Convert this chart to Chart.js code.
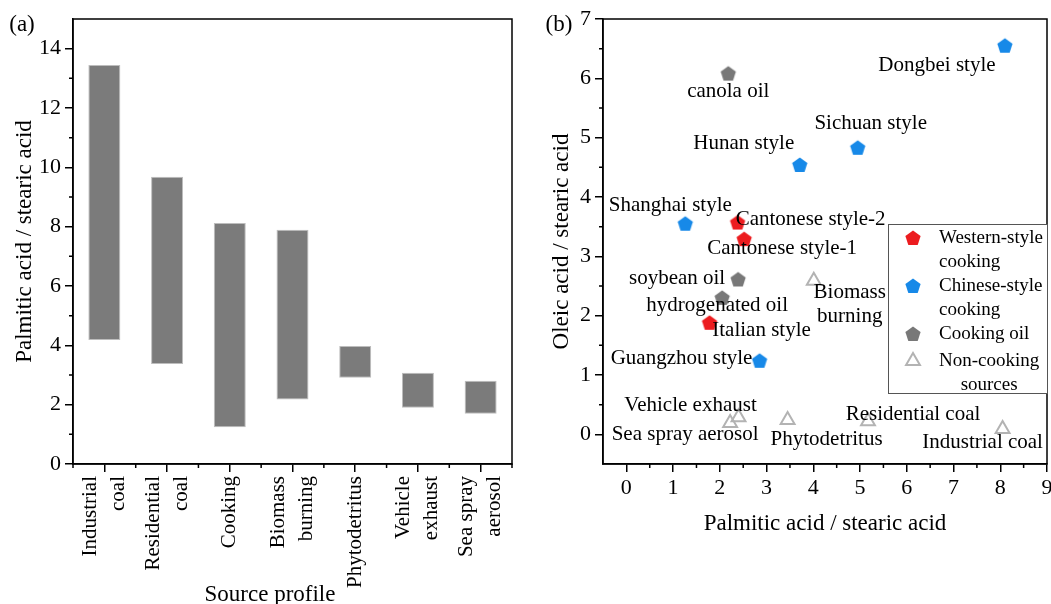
<!DOCTYPE html>
<html>
<head>
<meta charset="utf-8">
<script src="https://cdn.jsdelivr.net/npm/chart.js@4.4.0/dist/chart.umd.min.js"></script>
<style>
  html, body { margin: 0; padding: 0; background: #fff; overflow: hidden; width: 1051px; height: 604px; }
  canvas { position: absolute; top: 0; }
</style>
</head>
<body>
<canvas id="barChart" width="530" height="604" style="left:0"></canvas>
<canvas id="scatterChart" width="530" height="604" style="left:540px"></canvas>
<script>
// (a) palmitic / stearic ranges per source
var sources = ['Industrial\ncoal', 'Residential\ncoal', 'Cooking', 'Biomass\nburning', 'Phytodetritus', 'Vehicle\nexhaust', 'Sea spray\naerosol'];
var rangeLow = [4.18, 3.37, 1.24, 2.17, 2.91, 1.90, 1.69];
var rangeHigh = [13.45, 9.68, 8.12, 7.90, 3.98, 3.08, 2.81];
var yTicksA = [0, 2, 4, 6, 8, 10, 12, 14];
var yMinorA = [1, 3, 5, 7, 9, 11, 13];
var xMinorA = [-0.5, 0.5, 1.5, 2.5, 3.5, 4.5, 5.5, 6.5];

// (b) oleic vs palmitic
var westernNames = ['Cantonese style-2', 'Cantonese style-1', 'Italian style'];
var westernX = [2.38, 2.52, 1.78];
var westernY = [3.57, 3.29, 1.88];
var chineseNames = ['Dongbei style', 'Sichuan style', 'Hunan style', 'Shanghai style', 'Guangzhou style'];
var chineseX = [8.10, 4.95, 3.71, 1.26, 2.85];
var chineseY = [6.55, 4.83, 4.54, 3.55, 1.24];
var oilNames = ['canola oil', 'soybean oil', 'hydrogenated oil'];
var oilX = [2.18, 2.39, 2.05];
var oilY = [6.08, 2.61, 2.30];
var otherNames = ['Biomass\nburning', 'Vehicle exhaust', 'Sea spray aerosol', 'Phytodetritus', 'Residential coal', 'Industrial coal'];
var otherX = [4.01, 2.40, 2.22, 3.45, 5.17, 8.05];
var otherY = [2.59, 0.29, 0.19, 0.24, 0.22, 0.09];
var xTicksB = [0, 1, 2, 3, 4, 5, 6, 7, 8, 9];
var yTicksB = [0, 1, 2, 3, 4, 5, 6, 7];
var xMinorB = [0.5, 1.5, 2.5, 3.5, 4.5, 5.5, 6.5, 7.5, 8.5];
var yMinorB = [0.5, 1.5, 2.5, 3.5, 4.5, 5.5, 6.5];

// where each point label sits, relative to its point (px)
var labelShift = {
  'Dongbei style': [-68, 20],
  'canola oil': [0, 18],
  'Hunan style': [-56, -21],
  'Sichuan style': [13, -24],
  'Shanghai style': [-15, -18],
  'Cantonese style-2': [73, -3],
  'Cantonese style-1': [38, 9],
  'soybean oil': [-61, -1],
  'Biomass\nburning': [36, 24],
  'hydrogenated oil': [-5, 8],
  'Italian style': [52, 8],
  'Guangzhou style': [-78, -2],
  'Vehicle exhaust': [-48, -12],
  'Sea spray aerosol': [-45, 11],
  'Phytodetritus': [39, 19],
  'Residential coal': [45, -7],
  'Industrial coal': [-20, 13]
};

Chart.defaults.font.family = '"Liberation Serif", "Times New Roman", serif';
Chart.defaults.color = '#000';

function pentagon(color) {
  var c = document.createElement('canvas');
  c.width = 18; c.height = 18;
  var g = c.getContext('2d');
  g.fillStyle = color;
  g.beginPath();
  for (var i = 0; i < 5; i++) {
    var a = -Math.PI / 2 + i * 2 * Math.PI / 5;
    g.lineTo(9 + 8 * Math.cos(a), 9.5 + 8 * Math.sin(a));
  }
  g.closePath();
  g.fill();
  return c;
}

function pts(xs, ys) {
  return xs.map(function (x, i) { return { x: x, y: ys[i] }; });
}

function fixTicks(list) {
  return function (s) { s.ticks = list.map(function (v) { return { value: v }; }); };
}

// frame + minor ticks
var frame = {
  id: 'frame',
  afterDraw: function (chart, args, opts) {
    var ctx = chart.ctx, a = chart.chartArea;
    var xs = chart.scales.x, ys = chart.scales.y;
    ctx.save();
    ctx.strokeStyle = '#000';
    ctx.lineWidth = 1.5;
    ctx.strokeRect(a.left, a.top, a.right - a.left, a.bottom - a.top);
    ctx.beginPath();
    (opts.xMinor || []).forEach(function (v) {
      var p = xs.getPixelForValue(v);
      ctx.moveTo(p, a.bottom); ctx.lineTo(p, a.bottom + 4);
    });
    (opts.yMinor || []).forEach(function (v) {
      var p = ys.getPixelForValue(v);
      ctx.moveTo(a.left, p); ctx.lineTo(a.left - 4, p);
    });
    ctx.stroke();
    ctx.restore();
  }
};

// free text: panel letters, titles drawn off-centre
var notes = {
  id: 'notes',
  afterDraw: function (chart, args, opts) {
    var ctx = chart.ctx;
    ctx.save();
    ctx.fillStyle = '#000';
    ctx.textAlign = 'center';
    ctx.textBaseline = 'middle';
    (opts.items || []).forEach(function (t) {
      ctx.font = t.size + 'px "Liberation Serif"';
      ctx.fillText(t.text, t.x, t.y);
    });
    ctx.restore();
  }
};

// rotated category labels, multi-line centred on the tick
var catLabels = {
  id: 'catLabels',
  afterDraw: function (chart) {
    var ctx = chart.ctx, xs = chart.scales.x, a = chart.chartArea;
    ctx.save();
    ctx.fillStyle = '#000';
    ctx.font = '21px "Liberation Serif"';
    ctx.textAlign = 'right';
    ctx.textBaseline = 'middle';
    chart.data.labels.forEach(function (lab, i) {
      var px = xs.getPixelForValue(i);
      var lines = lab.split('\n');
      lines.forEach(function (ln, j) {
        ctx.save();
        ctx.translate(px + (j - (lines.length - 1) / 2) * 28, a.bottom + 12);
        ctx.rotate(-Math.PI / 2);
        ctx.fillText(ln, 0, 0);
        ctx.restore();
      });
    });
    ctx.restore();
  }
};

var pointLabels = {
  id: 'pointLabels',
  afterDatasetsDraw: function (chart) {
    var ctx = chart.ctx;
    ctx.save();
    ctx.font = '21px "Liberation Serif"';
    ctx.fillStyle = '#000';
    ctx.textAlign = 'center';
    ctx.textBaseline = 'middle';
    chart.data.datasets.forEach(function (ds, di) {
      chart.getDatasetMeta(di).data.forEach(function (el, i) {
        var name = ds.names[i];
        var s = labelShift[name] || [0, -18];
        var lines = name.split('\n');
        lines.forEach(function (ln, j) {
          ctx.fillText(ln, el.x + s[0], el.y + s[1] + (j - (lines.length - 1) / 2) * 24.6);
        });
      });
    });
    ctx.restore();
  }
};

// boxed legend inside the plot, right side
var boxLegend = {
  id: 'boxLegend',
  afterDraw: function (chart) {
    var ctx = chart.ctx, a = chart.chartArea;
    var w = 159, h = 169;
    var left = a.right - w, top = a.top + 205;
    ctx.save();
    ctx.fillStyle = '#fff';
    ctx.fillRect(left, top, w, h);
    ctx.strokeStyle = '#555';
    ctx.lineWidth = 1;
    ctx.strokeRect(left + 0.5, top + 0.5, w, h);
    ctx.font = '19px "Liberation Serif"';
    ctx.textBaseline = 'middle';
    var y = top + 14;
    chart.data.datasets.forEach(function (ds) {
      ctx.fillStyle = ds.backgroundColor;
      ctx.strokeStyle = ds.borderColor;
      ctx.lineWidth = ds.borderWidth || 0;
      Chart.helpers.drawPoint(ctx, { pointStyle: ds.pointStyle, radius: ds.pointRadius, borderWidth: ds.borderWidth || 0, rotation: 0 }, left + 25, y);
      ctx.fillStyle = '#000';
      var lines = ds.label.split('\n');
      lines.forEach(function (ln, j) {
        if (j > 0 && ds.legendCenter) {
          ctx.textAlign = 'center';
          ctx.fillText(ln, left + 51 + ctx.measureText(lines[0]).width / 2, y + j * 24);
        } else {
          ctx.textAlign = 'left';
          ctx.fillText(ln, left + 51, y + j * 24);
        }
      });
      y += Math.max(lines.length * 24, 27);
    });
    ctx.restore();
  }
};

var axisGrid = { drawOnChartArea: false, tickLength: 8, color: '#000', lineWidth: 1.5 };
var axisBorder = { color: '#000', width: 1.5 };

new Chart(document.getElementById('barChart'), {
  type: 'bar',
  data: {
    labels: sources,
    datasets: [{
      data: rangeLow.map(function (v, i) { return [v, rangeHigh[i]]; }),
      backgroundColor: '#7b7b7b',
      borderColor: '#bdbdbd',
      borderWidth: 1,
      borderSkipped: false,
      barPercentage: 0.51,
      categoryPercentage: 1
    }]
  },
  options: {
    responsive: false,
    animation: false,
    layout: { padding: { top: 19, right: 18, left: 0, bottom: 0 } },
    plugins: {
      legend: { display: false },
      tooltip: { enabled: false },
      frame: { xMinor: xMinorA, yMinor: yMinorA },
      notes: { items: [
        { text: '(a)', x: 22, y: 25, size: 23 },
        { text: 'Source profile', x: 270, y: 595, size: 23 }
      ] }
    },
    scales: {
      x: {
        offset: true,
        grid: Object.assign({ offset: false }, axisGrid),
        border: axisBorder,
        ticks: { display: false },
        afterFit: function (s) { s.height = 140; }
      },
      y: {
        min: 0, max: 15,
        afterBuildTicks: fixTicks(yTicksA),
        ticks: { font: { size: 22 }, padding: 4 },
        grid: axisGrid,
        border: axisBorder,
        title: { display: true, text: 'Palmitic acid / stearic acid', font: { size: 23 }, padding: { top: 11, bottom: 0 } },
        afterFit: function (s) { s.width = 73; }
      }
    }
  },
  plugins: [frame, catLabels, notes]
});

new Chart(document.getElementById('scatterChart'), {
  type: 'scatter',
  data: {
    datasets: [
      { label: 'Western-style\ncooking', names: westernNames, data: pts(westernX, westernY),
        pointStyle: pentagon('#ec1c1f'), pointRadius: 8, backgroundColor: '#ec1c1f', borderColor: '#ec1c1f', borderWidth: 0 },
      { label: 'Chinese-style\ncooking', names: chineseNames, data: pts(chineseX, chineseY),
        pointStyle: pentagon('#1789e8'), pointRadius: 8, backgroundColor: '#1789e8', borderColor: '#1789e8', borderWidth: 0 },
      { label: 'Cooking oil', names: oilNames, data: pts(oilX, oilY),
        pointStyle: pentagon('#787878'), pointRadius: 8, backgroundColor: '#787878', borderColor: '#787878', borderWidth: 0 },
      { label: 'Non-cooking\nsources', legendCenter: true, names: otherNames, data: pts(otherX, otherY),
        pointStyle: 'triangle', pointRadius: 8, backgroundColor: 'rgba(0,0,0,0)', borderColor: '#b3b3b3', borderWidth: 2 }
    ]
  },
  options: {
    responsive: false,
    animation: false,
    layout: { padding: { top: 19, right: 23, left: 0, bottom: 0 } },
    plugins: {
      legend: { display: false },
      tooltip: { enabled: false },
      frame: { xMinor: xMinorB, yMinor: yMinorB },
      notes: { items: [{ text: '(b)', x: 19, y: 25, size: 23 }] }
    },
    scales: {
      x: {
        type: 'linear', min: -0.5, max: 9,
        afterBuildTicks: fixTicks(xTicksB),
        ticks: { font: { size: 22 }, padding: 3 },
        grid: axisGrid,
        border: axisBorder,
        title: { display: true, text: 'Palmitic acid / stearic acid', font: { size: 23 }, padding: { top: 0, bottom: 66 } },
        afterFit: function (s) { s.height = 140; }
      },
      y: {
        min: -0.5, max: 7,
        afterBuildTicks: fixTicks(yTicksB),
        ticks: { font: { size: 22 }, padding: 4 },
        grid: axisGrid,
        border: axisBorder,
        title: { display: true, text: 'Oleic acid / stearic acid', font: { size: 23 }, padding: { top: 8, bottom: 0 } },
        afterFit: function (s) { s.width = 63; }
      }
    }
  },
  plugins: [frame, pointLabels, boxLegend, notes]
});
</script>
</body>
</html>
